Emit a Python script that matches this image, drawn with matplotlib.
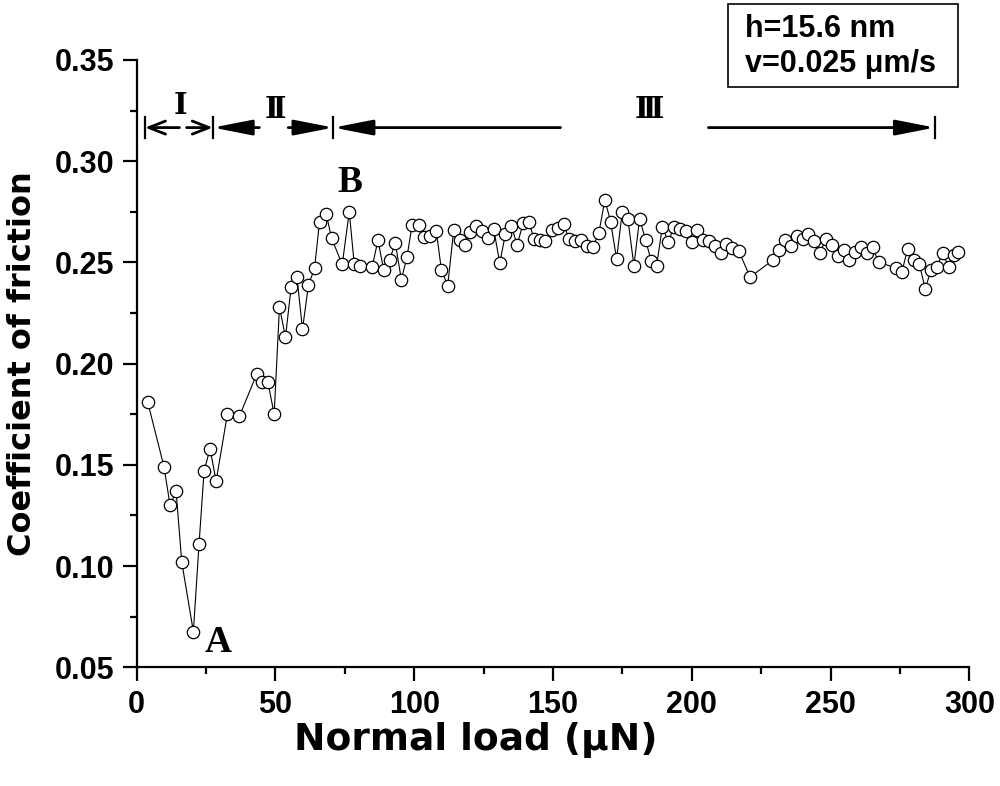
import matplotlib
matplotlib.use("Agg")
import matplotlib.pyplot as plt
from matplotlib.patches import Rectangle
from matplotlib.ticker import MultipleLocator, FormatStrFormatter

# ---- data ----
normal_load = [3.97, 9.85, 12.02, 14.19, 16.23, 20.42, 22.47, 24.28, 26.44, 28.61,
               32.68, 37.01, 43.29, 45.09, 47.26, 49.53, 51.44, 53.61, 55.66, 57.72,
               59.74, 61.90, 64.07, 65.87, 68.29, 70.20, 74.06, 76.59, 78.39, 80.56,
               84.78, 86.94, 88.96, 91.13, 93.18, 95.35, 97.40, 99.21, 101.59, 103.39,
               105.56, 107.97, 109.78, 112.05, 114.21, 116.38, 118.43, 120.24, 122.29, 124.46,
               126.62, 128.64, 130.81, 132.86, 135.03, 137.08, 139.25, 141.52, 143.07, 145.24,
               147.29, 149.71, 151.73, 153.90, 155.70, 157.86, 160.17, 162.34, 164.36, 166.52,
               168.69, 170.74, 172.91, 174.96, 176.98, 179.15, 181.20, 183.37, 185.42, 187.34,
               189.39, 191.56, 193.58, 195.74, 197.80, 199.96, 202.02, 204.18, 206.20, 208.26,
               210.43, 212.48, 214.65, 217.03, 221.00, 229.44, 231.46, 233.62, 235.93, 237.84,
               239.90, 242.06, 244.08, 246.25, 248.30, 250.47, 252.53, 254.69, 256.71, 258.88,
               260.93, 263.10, 265.15, 267.32, 273.56, 275.72, 277.78, 279.94, 281.96, 284.13,
               286.18, 288.24, 290.40, 292.57, 294.59, 295.82]
friction = [0.181, 0.149, 0.130, 0.137, 0.102, 0.0676, 0.111, 0.147, 0.158, 0.142,
            0.175, 0.174, 0.195, 0.191, 0.191, 0.175, 0.228, 0.213, 0.238, 0.243,
            0.217, 0.239, 0.247, 0.270, 0.274, 0.262, 0.249, 0.275, 0.249, 0.248,
            0.2475, 0.261, 0.2464, 0.2513, 0.2596, 0.2415, 0.2527, 0.2683, 0.2686, 0.2625,
            0.2632, 0.2653, 0.2464, 0.2385, 0.2658, 0.2611, 0.2584, 0.2648, 0.2678, 0.2656,
            0.262, 0.2665, 0.2497, 0.2641, 0.2678, 0.2587, 0.2694, 0.2699, 0.2615, 0.2611,
            0.2604, 0.2661, 0.267, 0.2691, 0.2615, 0.2607, 0.2611, 0.2579, 0.2576, 0.2645,
            0.2809, 0.2702, 0.2518, 0.2749, 0.2715, 0.2484, 0.2715, 0.2611, 0.2505, 0.2484,
            0.2675, 0.2601, 0.2675, 0.2666, 0.2653, 0.2599, 0.2658, 0.2609, 0.2604, 0.2583,
            0.2546, 0.2592, 0.2571, 0.2554, 0.2428, 0.2513, 0.2563, 0.2611, 0.2579, 0.2632,
            0.2617, 0.2641, 0.2604, 0.2546, 0.2617, 0.2584, 0.2533, 0.2563, 0.2510, 0.2551,
            0.2576, 0.2546, 0.2576, 0.2502, 0.2472, 0.2453, 0.2568, 0.2513, 0.2494, 0.2370,
            0.2461, 0.2477, 0.2546, 0.2477, 0.2535, 0.2551]

# regime boundaries (normal load) and labels
regime_bounds = [3.0, 27.4, 70.9, 287.6]
regime_labels = ["Ⅰ", "Ⅱ", "Ⅲ"]
regime_label_x = [15.9, 50.1, 184.7]
arrow_level = 0.3166
point_labels = ["A", "B"]
point_label_xy = [(24.3, 0.0576), (72.3, 0.2848)]
info_lines = ["h=15.6 nm", "v=0.025 μm/s"]

x_ticks = [0, 50, 100, 150, 200, 250, 300]
y_ticks = [0.05, 0.10, 0.15, 0.20, 0.25, 0.30, 0.35]

# ---- figure ----
fig = plt.figure(figsize=(10, 7.86), dpi=100)
ax = fig.add_axes([0.1367, 0.151, 0.8326, 0.7727])

ax.plot(normal_load, friction, color="black", lw=0.8, marker="o", ms=8.9,
        mfc="white", mec="black", mew=0.9, zorder=3)

ax.set_xlim(0, 300)
ax.set_ylim(0.05, 0.35)
ax.set_xticks(x_ticks)
ax.set_yticks(y_ticks)
ax.xaxis.set_minor_locator(MultipleLocator(25))
ax.yaxis.set_minor_locator(MultipleLocator(0.025))
ax.yaxis.set_major_formatter(FormatStrFormatter("%.2f"))
for s in ["top", "right"]:
    ax.spines[s].set_visible(False)
for s in ["left", "bottom"]:
    ax.spines[s].set_linewidth(1.6)
ax.tick_params(which="major", direction="out", length=10, width=1.6, pad=6)
ax.tick_params(which="minor", direction="out", length=5, width=1.6)
for lab in ax.get_xticklabels() + ax.get_yticklabels():
    lab.set_fontfamily("Liberation Sans")
    lab.set_fontweight("bold")
    lab.set_fontsize(22)

ax.set_xlabel("Normal load (μN)", fontfamily="DejaVu Sans", fontweight="bold",
              fontsize=27, va="center")
ax.xaxis.set_label_coords(0.4075, -0.12)
ax.set_ylabel("Coefficient of friction", fontfamily="DejaVu Sans", fontweight="bold",
              fontsize=23, labelpad=12)

# ---- regime arrows ----
def bar(xv):
    ax.plot([xv, xv], [arrow_level - 0.005, arrow_level + 0.005], color="black",
            lw=1.6, clip_on=False)

for b in regime_bounds:
    bar(b)

open_style = "->,head_length=1.2,head_width=0.47"
fill_style = "-|>,head_length=2.4,head_width=0.47"

def arrow(x_from, x_to, style):
    ax.annotate("", xy=(x_to, arrow_level), xytext=(x_from, arrow_level),
                arrowprops=dict(arrowstyle=style, color="black", lw=2.0,
                                shrinkA=0, shrinkB=0, mutation_scale=10),
                annotation_clip=False)

# regime I (open heads)
arrow(15.4, regime_bounds[0], open_style)
arrow(18.0, regime_bounds[1], open_style)
# regime II
arrow(44.2, regime_bounds[1], fill_style)
arrow(54.6, regime_bounds[2], fill_style)
# regime III
arrow(152.7, regime_bounds[2], fill_style)
arrow(206.0, regime_bounds[3], fill_style)

label_y = [0.3275, 0.3255, 0.3255]
for lx, ly, lt in zip(regime_label_x, label_y, regime_labels):
    ax.text(lx, ly, lt, ha="center", va="center", fontsize=21, fontweight="bold",
            fontfamily=["DejaVu Serif", "Noto Sans CJK SC"])

for (px, py), t in zip(point_label_xy, point_labels):
    ax.text(px, py, t, ha="left", va="baseline", fontsize=27,
            fontfamily="Liberation Serif", fontweight="bold")

# ---- info box ----
fig.add_artist(Rectangle((728 / 1000, 1 - 87 / 786), 230 / 1000, 83 / 786,
                         transform=fig.transFigure, fill=False, ec="black", lw=1.2))
fig.text(745 / 1000, 1 - 37 / 786, info_lines[0], ha="left", va="baseline",
         fontsize=22, fontfamily="Liberation Sans", fontweight="bold")
fig.text(745 / 1000, 1 - 72 / 786, info_lines[1], ha="left", va="baseline",
         fontsize=22, fontfamily="Liberation Sans", fontweight="bold")

fig.savefig("out.png", dpi=100)
